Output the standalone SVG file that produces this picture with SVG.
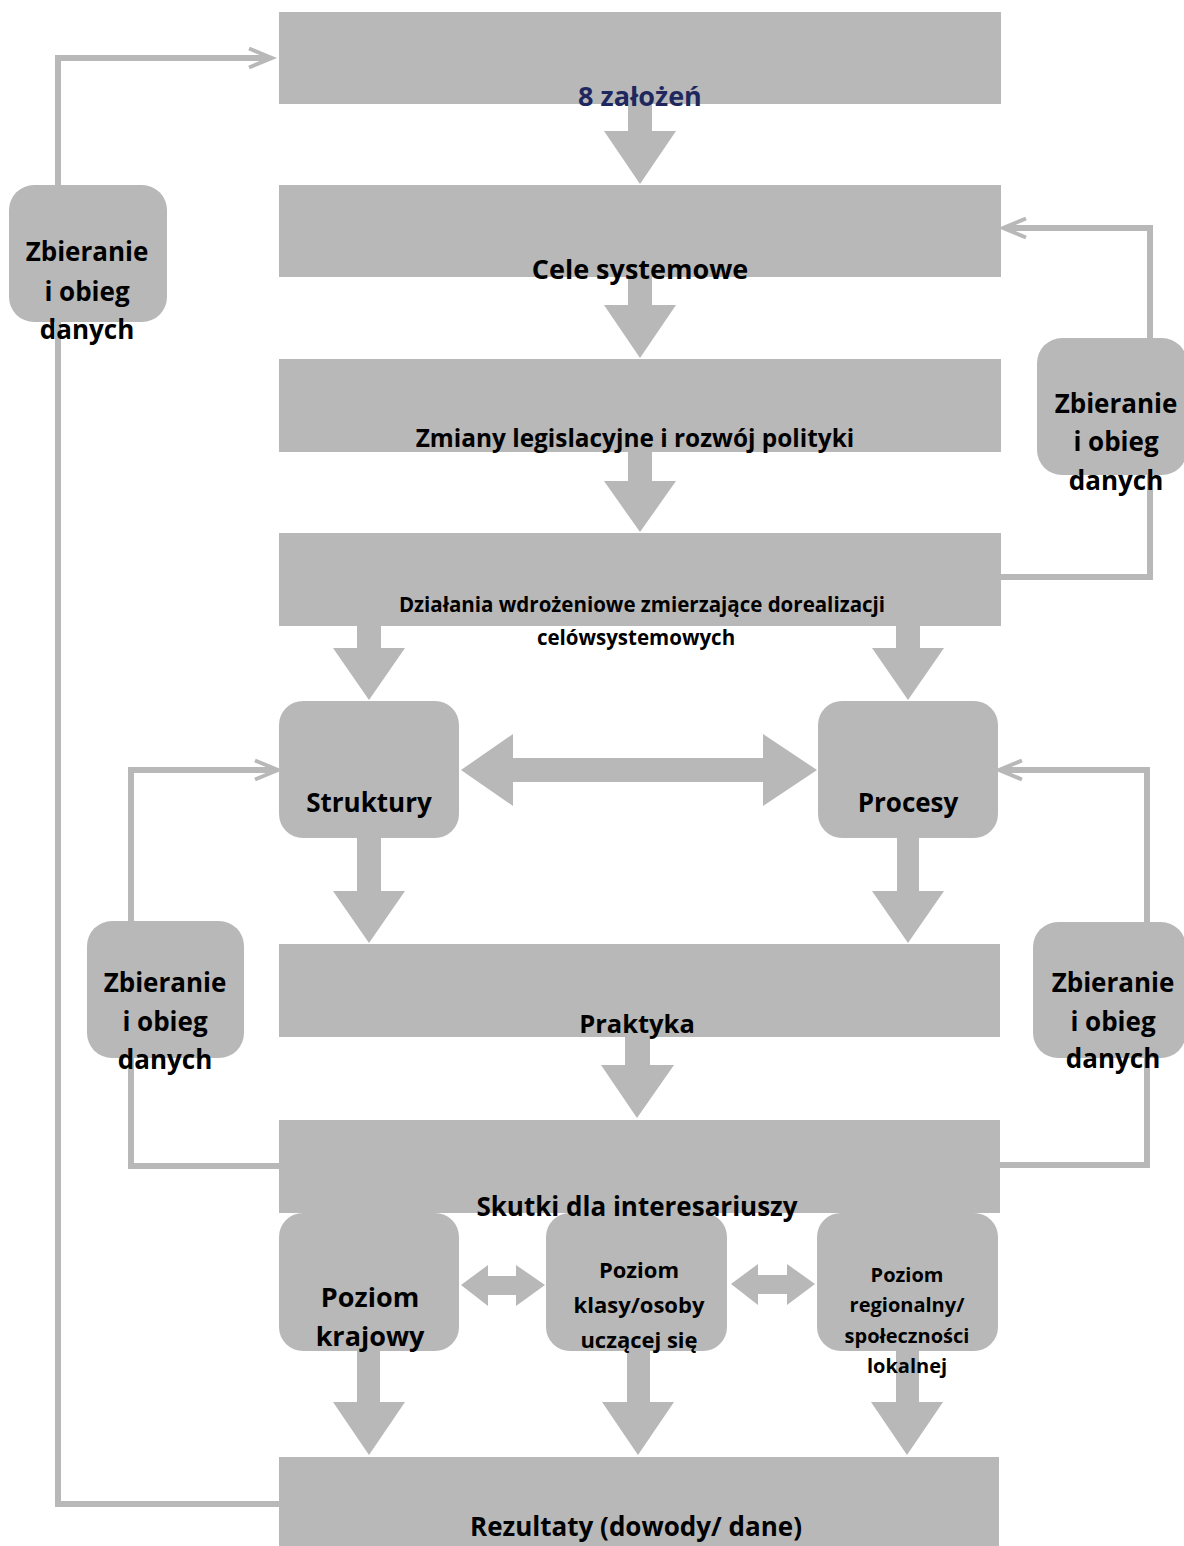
<svg xmlns="http://www.w3.org/2000/svg" width="1184" height="1546" viewBox="0 0 1184 1546">
<style>
  .box { fill: #b8b8b8; }
  .blk { fill: #b8b8b8; }
  .ln { fill: none; stroke: #b8b8b8; stroke-width: 6; stroke-linejoin: miter; stroke-linecap: butt; }
  text { font-family: "Open Sans", "Liberation Sans", sans-serif; font-weight: 700; fill: #000; text-anchor: middle; }
  .navy { fill: #1f285e; }
</style>
<defs>
  <marker id="open" markerUnits="userSpaceOnUse" markerWidth="30" markerHeight="24" viewBox="0 0 30 24" refX="23" refY="12" orient="auto">
    <path d="M2,2.5 L25,12 L2,21.5" fill="none" stroke="#b8b8b8" stroke-width="4"/>
  </marker>
</defs>
<rect width="1184" height="1546" fill="#ffffff"/>

<g id="connectors">
  <!-- feedback lines -->
  <path class="ln" d="M279,1504 L58,1504 L58,58 L270,58" marker-end="url(#open)"/>
  <path class="ln" d="M1001,577 L1150,577 L1150,228 L1005,228" marker-end="url(#open)"/>
  <path class="ln" d="M279,1166 L131,1166 L131,770 L276,770" marker-end="url(#open)"/>
  <path class="ln" d="M998,1165 L1147,1165 L1147,770 L1001,770" marker-end="url(#open)"/>
  <!-- block arrows down -->
  <polygon class="blk" points="628,104 652,104 652,131 676,131 640,184 604,131 628,131"/>
  <polygon class="blk" points="628,277 652,277 652,305 676,305 640,358 604,305 628,305"/>
  <polygon class="blk" points="628,452 652,452 652,481 676,481 640,532 604,481 628,481"/>
  <polygon class="blk" points="357,626 381,626 381,648 405,648 369,700 333,648 357,648"/>
  <polygon class="blk" points="896,626 920,626 920,648 944,648 908,700 872,648 896,648"/>
  <polygon class="blk" points="357,838 381,838 381,891 405,891 369,943 333,891 357,891"/>
  <polygon class="blk" points="897,838 919,838 919,891 944,891 908,943 872,891 897,891"/>
  <polygon class="blk" points="625,1037 650,1037 650,1065 674,1065 637,1118 601,1065 625,1065"/>
  <polygon class="blk" points="357,1351 380,1351 380,1402 405,1402 369,1455 333,1402 357,1402"/>
  <polygon class="blk" points="627,1351 650,1351 650,1402 674,1402 638,1455 602,1402 627,1402"/>
  <polygon class="blk" points="896,1351 919,1351 919,1402 943,1402 907,1455 871,1402 896,1402"/>
  <!-- double arrows -->
  <polygon class="blk" points="461,770 513,734 513,758 763,758 763,734 817,770 763,806 763,782 513,782 513,806"/>
  <polygon class="blk" points="461,1285 488,1265 488,1276 516,1276 516,1265 545,1285 516,1306 516,1295 488,1295 488,1306"/>
  <polygon class="blk" points="731,1284 758,1264 758,1275 787,1275 787,1264 815,1284 787,1305 787,1294 758,1294 758,1305"/>
</g>

<g id="n-zalozenia">
  <rect class="box" x="279" y="12" width="722" height="92"/>
  <text class="navy" x="640" y="106" font-size="27">8 założeń</text>
</g>
<g id="n-cele">
  <rect class="box" x="279" y="185" width="722" height="92"/>
  <text x="640" y="279" font-size="27">Cele systemowe</text>
</g>
<g id="n-zmiany">
  <rect class="box" x="279" y="359" width="722" height="93"/>
  <text x="635" y="447" font-size="24.4">Zmiany legislacyjne i rozwój polityki</text>
</g>
<g id="n-dzialania">
  <rect class="box" x="279" y="533" width="722" height="93"/>
  <text x="642" y="612" font-size="20.5">Działania wdrożeniowe zmierzające dorealizacji</text>
  <text x="636" y="645" font-size="20.5">celówsystemowych</text>
</g>
<g id="n-struktury">
  <rect class="box" x="279" y="701" width="180" height="137" rx="24"/>
  <text x="369" y="812" font-size="26">Struktury</text>
</g>
<g id="n-procesy">
  <rect class="box" x="818" y="701" width="180" height="137" rx="24"/>
  <text x="908" y="812" font-size="26">Procesy</text>
</g>
<g id="n-praktyka">
  <rect class="box" x="279" y="944" width="721" height="93"/>
  <text x="637" y="1033" font-size="25.5">Praktyka</text>
</g>
<g id="n-krajowy">
  <rect class="box" x="279" y="1213" width="180" height="138" rx="24"/>
  <text x="370" y="1307" font-size="27">Poziom</text>
  <text x="370" y="1346" font-size="27">krajowy</text>
</g>
<g id="n-klasy">
  <rect class="box" x="546" y="1213" width="181" height="138" rx="24"/>
  <text x="639" y="1278" font-size="22">Poziom</text>
  <text x="639" y="1313" font-size="22">klasy/osoby</text>
  <text x="639" y="1348" font-size="22">uczącej się</text>
</g>
<g id="n-regionalny">
  <rect class="box" x="817" y="1213" width="181" height="138" rx="24"/>
  <text x="907" y="1282" font-size="20">Poziom</text>
  <text x="907" y="1312" font-size="20">regionalny/</text>
  <text x="907" y="1343" font-size="20">społeczności</text>
  <text x="907" y="1373" font-size="20">lokalnej</text>
</g>
<g id="n-skutki">
  <rect class="box" x="279" y="1120" width="721" height="93"/>
  <text x="637" y="1216" font-size="26">Skutki dla interesariuszy</text>
</g>
<g id="n-rezultaty">
  <rect class="box" x="279" y="1457" width="720" height="95"/>
  <text x="636" y="1536" font-size="26">Rezultaty (dowody/ dane)</text>
</g>

<g id="n-dane-1">
  <rect class="box" x="9" y="185" width="158" height="137" rx="25"/>
  <text x="87" y="261" font-size="26">Zbieranie</text>
  <text x="87" y="301" font-size="26">i obieg</text>
  <text x="87" y="339" font-size="26">danych</text>
</g>
<g id="n-dane-2">
  <rect class="box" x="1037" y="338" width="150" height="137" rx="25"/>
  <text x="1116" y="413" font-size="26">Zbieranie</text>
  <text x="1116" y="451" font-size="26">i obieg</text>
  <text x="1116" y="490" font-size="26">danych</text>
</g>
<g id="n-dane-3">
  <rect class="box" x="87" y="921" width="157" height="137" rx="25"/>
  <text x="165" y="992" font-size="26">Zbieranie</text>
  <text x="165" y="1031" font-size="26">i obieg</text>
  <text x="165" y="1069" font-size="26">danych</text>
</g>
<g id="n-dane-4">
  <rect class="box" x="1033" y="922" width="153" height="136" rx="25"/>
  <text x="1113" y="992" font-size="26">Zbieranie</text>
  <text x="1113" y="1031" font-size="26">i obieg</text>
  <text x="1113" y="1068" font-size="26">danych</text>
</g>
</svg>
